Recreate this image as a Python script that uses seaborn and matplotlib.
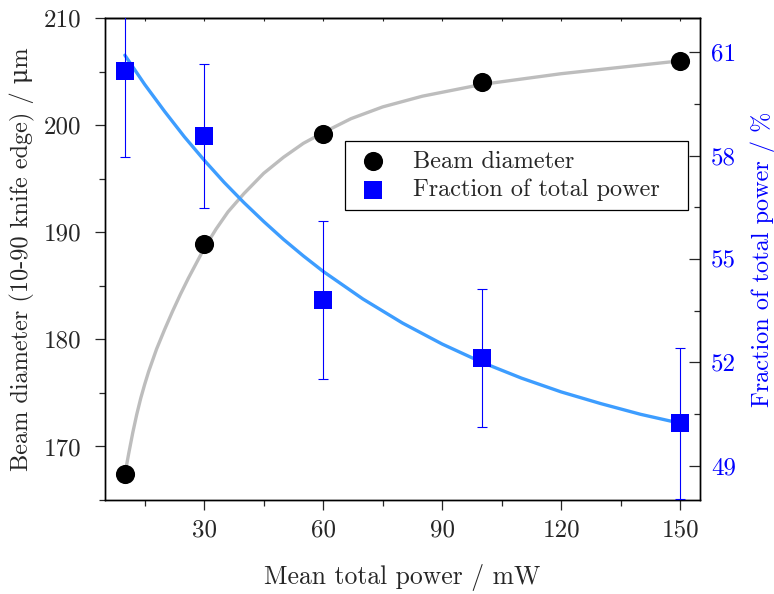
import matplotlib
matplotlib.use("Agg")
import matplotlib.pyplot as plt
from matplotlib.patches import Rectangle
from matplotlib.ticker import MultipleLocator, FixedLocator
import seaborn as sns

# measured points
power_mw = [10, 30, 60, 100, 150]
beam_um = [167.4, 188.9, 199.2, 204.0, 206.0]
frac_pct = [60.46, 58.57, 53.81, 52.13, 50.23]
frac_err = [2.5, 2.1, 2.3, 2.0, 2.2]

# fit curves
beam_fit_x = [10.3, 11, 12, 13, 14, 15, 16, 18, 20, 22, 24, 26, 28, 30, 33, 36,
              40, 45, 50, 55, 60, 67, 75, 85, 100, 120, 150]
beam_fit_um = [168.0, 169.4, 171.3, 173.0, 174.5, 175.8, 177.0, 179.1, 180.9,
               182.6, 184.2, 185.7, 187.1, 188.5, 190.3, 191.9, 193.6, 195.5,
               197.0, 198.3, 199.3, 200.6, 201.7, 202.7, 203.8, 204.8, 206.0]
frac_fit_x = [10, 15, 20, 25, 30, 35, 40, 45, 50, 55, 60, 70, 80, 90, 100,
              110, 120, 130, 140, 150]
frac_fit_pct = [60.92, 60.07, 59.29, 58.55, 57.87, 57.23, 56.64, 56.09, 55.57,
                55.09, 54.64, 53.84, 53.14, 52.53, 52.00, 51.54, 51.14, 50.80,
                50.49, 50.23]

right_ticks = [49, 52, 55, 58, 61]

sns.set_style("ticks")
plt.rcParams["font.family"] = ["cmr10", "DejaVu Serif"]
plt.rcParams["mathtext.fontset"] = "cm"
plt.rcParams["axes.unicode_minus"] = False

fig = plt.figure(figsize=(7.74, 5.94), dpi=100)
ax = fig.add_axes([0.1357, 0.1582, 0.7687, 0.8115])
ax2 = ax.twinx()

sns.lineplot(x=beam_fit_x, y=beam_fit_um, ax=ax, color="#bdbdbd", lw=2.4,
             sort=False, estimator=None, zorder=2)
sns.scatterplot(x=power_mw, y=beam_um, ax=ax, color="black", s=190,
                linewidth=0, zorder=3, label="Beam diameter", legend=False)

sns.lineplot(x=frac_fit_x, y=frac_fit_pct, ax=ax2, color="#3d9dff", lw=2.4,
             sort=False, estimator=None, zorder=2)
ax2.errorbar(power_mw, frac_pct, yerr=frac_err, fmt="none", ecolor="blue",
             elinewidth=0.8, capsize=3.6, capthick=0.8, zorder=3)
sns.scatterplot(x=power_mw, y=frac_pct, ax=ax2, color="blue", marker="s", s=150,
                linewidth=0, zorder=4, label="Fraction of total power", legend=False)

ax.set_xlim(5, 155)
ax.set_ylim(165, 210)
ax2.set_ylim(48, 62)

ax.xaxis.set_major_locator(MultipleLocator(30))
ax.xaxis.set_minor_locator(MultipleLocator(15))
ax.yaxis.set_major_locator(MultipleLocator(10))
ax.yaxis.set_minor_locator(MultipleLocator(5))
ax2.yaxis.set_major_locator(FixedLocator(right_ticks))
ax2.yaxis.set_minor_locator(MultipleLocator(1.5, offset=1))

for a in (ax, ax2):
    for s in a.spines.values():
        s.set_linewidth(1.0)
        s.set_color("black")
        s.set_visible(True)

ax.tick_params(axis="both", which="major", direction="out", length=7, width=0.9,
               labelsize=18, pad=7)
ax.tick_params(axis="y", which="major", pad=10)
ax.tick_params(axis="both", which="minor", direction="out", length=4, width=0.9)
ax.tick_params(axis="y", which="both", right=False)
ax2.tick_params(axis="y", which="major", direction="in", length=8, width=0.9,
                labelsize=18, labelcolor="blue", pad=8)
ax2.tick_params(axis="y", which="minor", direction="in", length=4, width=0.9)

# small inward ticks along the top edge
top = ax.secondary_xaxis("top")
top.xaxis.set_major_locator(MultipleLocator(30))
top.xaxis.set_minor_locator(MultipleLocator(15))
top.tick_params(which="both", direction="in", length=2, width=0.8, labeltop=False)
top.spines["top"].set_linewidth(1.0)

ax.set_xlabel("Mean total power / mW", fontsize=18.5, labelpad=16)
ax.set_ylabel("Beam diameter (10-90 knife edge) / μm", fontsize=17.5, labelpad=6)
ax2.set_ylabel("Fraction of total power / %", fontsize=17.5, color="blue", labelpad=10)

# legend: frame drawn separately so it can be wider than the entries
frame = Rectangle((0.403, 0.601), 0.576, 0.143, transform=ax2.transAxes,
                  facecolor="white", edgecolor="black", lw=0.9, zorder=5)
ax2.add_patch(frame)
h1, l1 = ax.get_legend_handles_labels()
h2, l2 = ax2.get_legend_handles_labels()
leg = ax2.legend(h1 + h2, l1 + l2, loc="center left", bbox_to_anchor=(0.42, 0.6725),
                 borderaxespad=0, fontsize=17.5, frameon=False, borderpad=0,
                 handletextpad=0.9, labelspacing=0.25, handlelength=1.5)
leg.set_zorder(6)

fig.savefig("out.png", dpi=100)
